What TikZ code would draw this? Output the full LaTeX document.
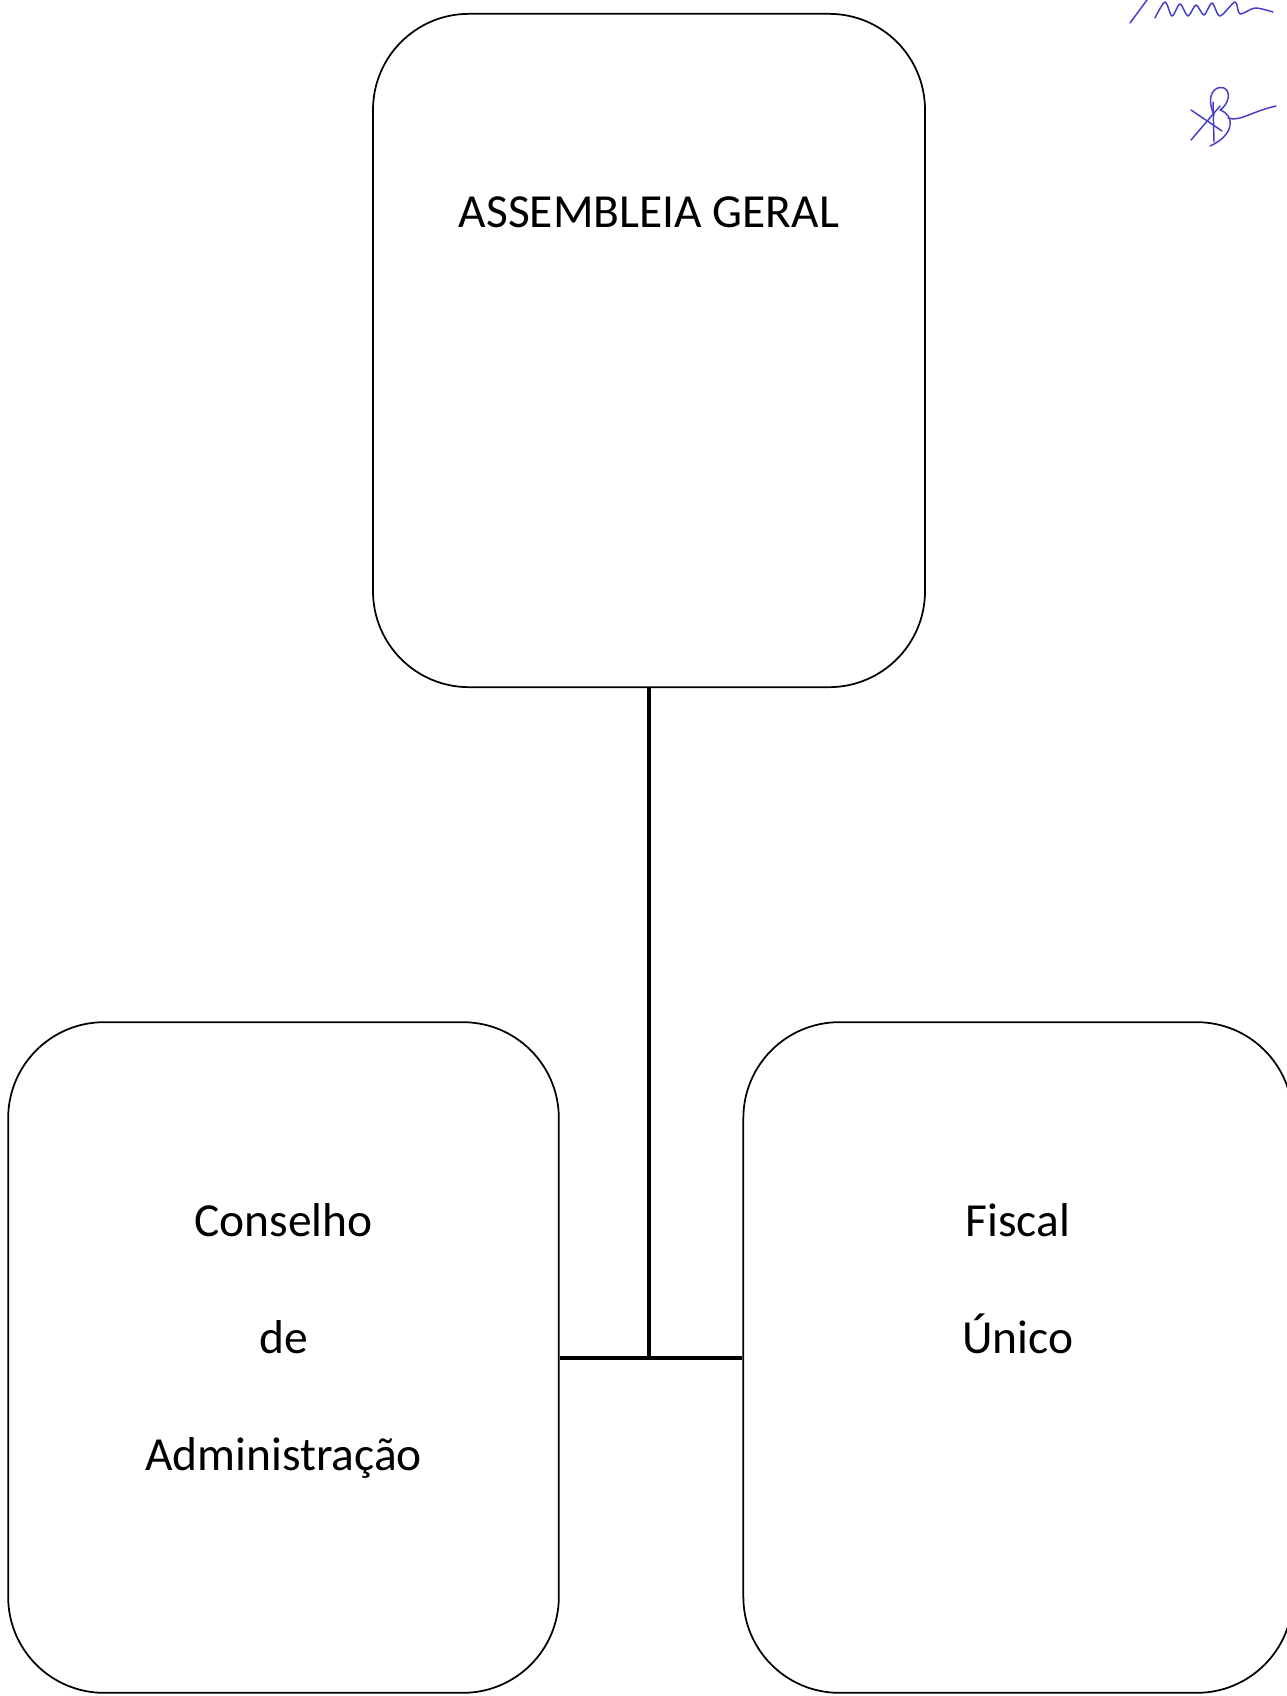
\documentclass[tikz,border=0pt]{standalone}
\usepackage{fontspec}
\setmainfont{Carlito}
\usepackage{xcolor}
\usetikzlibrary{positioning}
\definecolor{sigblue}{RGB}{70,60,200}

\begin{document}
\begin{tikzpicture}[x=0.75pt, y=-0.75pt, node distance={88pt}, on grid,
    box/.style = {draw, rounded corners=72pt, line width=1.3pt},
    lbl/.style = {font=\fontsize{35.6}{42}\selectfont, inner sep=0pt, text height=24pt, text depth=7pt},
    wire/.style = {line width=3pt},
    sig/.style = {sigblue, line width=1.1pt, line cap=round, line join=round}]
        \useasboundingbox (0,0) rectangle (1287,1696);
        % boxes
        \node[box, minimum width=414pt, minimum height=505pt] (ag) at (649,350.5) {};
        \node[box, minimum width=413pt, minimum height=503pt] (ca) at (283.5,1357.5) {};
        \node[box, minimum width=412pt, minimum height=503pt] (fu) at (1018,1357.5) {};
        % texts
        \node[lbl] (t1) [below=137pt of ag.north] {ASSEMBLEIA GERAL};
        \node[lbl] (c1) [below=137pt of ca.north] {Conselho};
        \node[lbl] (c2) [below of=c1] {de};
        \node[lbl] (c3) [below of=c2] {Administração};
        \node[lbl] (f1) [below=137pt of fu.north] {Fiscal};
        \node[lbl] (f2) [below of=f1] {Único};
        % connectors
        \draw[wire] (ag.south) |- (ca.east);
        \draw[wire] (ca.east) -- (fu.west);
        % signatures
        \draw[sig] (1130,23) -- (1147,0);
        \draw[sig] plot[smooth] coordinates {(1155,18) (1165,2) (1172,16) (1180,4) (1188,16) (1196,5) (1204,15) (1212,3) (1220,16) (1235,2) (1240,14) (1255,8) (1273,12)};
        \draw[sig] (1191,110) -- (1222,131);
        \draw[sig] (1191,140) -- (1220,106);
        \draw[sig] (1213,102) -- (1214,142);
        \draw[sig] (1214,115) .. controls (1205,95) and (1215,85) .. (1224,88) .. controls (1232,92) and (1228,105) .. (1220,110) .. controls (1235,115) and (1235,135) .. (1210,146);
        \draw[sig] (1228,118) .. controls (1240,122) and (1250,112) .. (1276,106);
    \end{tikzpicture}
\end{document}
